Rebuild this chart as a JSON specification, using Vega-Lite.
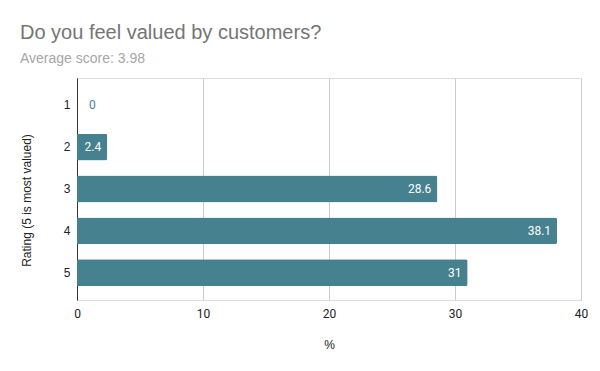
{
  "$schema": "https://vega.github.io/schema/vega-lite/v6.json",
  "autosize": "none",
  "width": 504,
  "height": 222,
  "padding": {"left": 77, "top": 78, "right": 19, "bottom": 71},
  "background": "white",
  "title": {
    "text": "Do you feel valued by customers?",
    "subtitle": "Average score: 3.98",
    "anchor": "start",
    "frame": "group",
    "dx": -57,
    "offset": 12,
    "font": "Liberation Sans",
    "fontSize": 20,
    "fontWeight": "normal",
    "color": "#757575",
    "subtitleFont": "Liberation Sans",
    "subtitleFontSize": 14,
    "subtitleColor": "#a6a6a6",
    "subtitlePadding": 9
  },
  "data": {"values": [
    {"rating": "1", "pct": 0},
    {"rating": "2", "pct": 2.4},
    {"rating": "3", "pct": 28.6},
    {"rating": "4", "pct": 38.1},
    {"rating": "5", "pct": 31}
  ]},
  "encoding": {
    "y": {
      "field": "rating", "type": "nominal", "sort": ["1","2","3","4","5"],
      "scale": {"paddingInner": 0.36, "paddingOuter": 0.33},
      "axis": {
        "title": "Rating (5 is most valued)",
        "titleFont": "Liberation Sans", "titleFontSize": 12, "titleFontWeight": "normal", "titleColor": "#222222",
        "titlePadding": 30, "titleY": 122,
        "labelFont": "Liberation Sans", "labelFontSize": 12, "labelColor": "#222222", "labelPadding": 7,
        "ticks": false, "domain": true, "domainColor": "#333333", "domainWidth": 1, "labelAngle": 0
      }
    },
    "x": {
      "field": "pct", "type": "quantitative",
      "scale": {"domain": [0, 40], "nice": false},
      "axis": {
        "title": "%", "values": [0, 10, 20, 30, 40], "labelFlush": false,
        "titleFont": "Liberation Sans", "titleFontSize": 12, "titleFontWeight": "normal", "titleColor": "#222222",
        "titlePadding": 20,
        "labelFont": "Roboto", "labelFontSize": 12, "labelColor": "#222222", "labelPadding": 8,
        "ticks": false, "domain": false, "grid": true, "gridColor": "#cccccc"
      }
    }
  },
  "layer": [
    {"mark": {"type": "bar", "color": "#45818e", "cornerRadiusEnd": 2}},
    {
      "transform": [{"filter": "datum.pct > 0"}],
      "mark": {"type": "text", "align": "right", "dx": -6, "color": "white", "font": "Roboto", "fontSize": 12, "baseline": "middle"},
      "encoding": {"text": {"field": "pct", "type": "quantitative"}}
    },
    {
      "transform": [{"filter": "datum.pct == 0"}],
      "mark": {"type": "text", "align": "left", "dx": 12, "color": "#45818e", "font": "Roboto", "fontSize": 12, "baseline": "middle"},
      "encoding": {"text": {"field": "pct", "type": "quantitative"}}
    }
  ]
}
